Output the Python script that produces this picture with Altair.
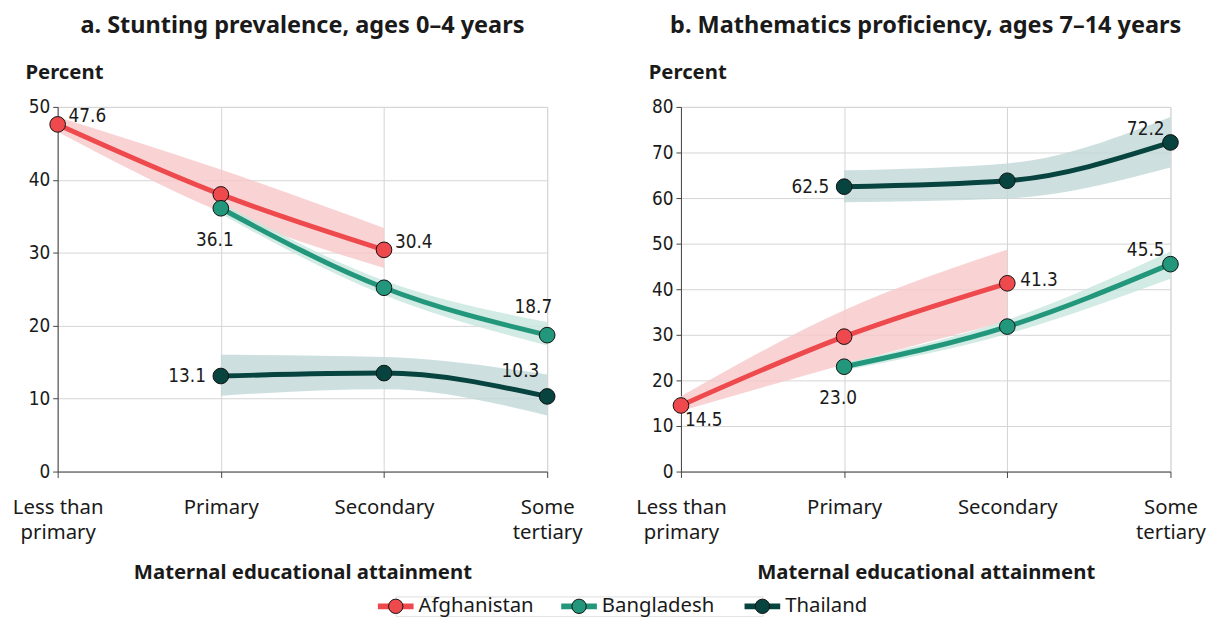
import altair as alt
import pandas as pd

categories = ["Less than primary", "Primary", "Secondary", "Some tertiary"]
countries = ["Afghanistan", "Bangladesh", "Thailand"]
colors = ["#EE4A4E", "#23977B", "#07443F"]
band_colors = ["#F8C8C8", "#C7E6DD", "#C0D8D7"]

# Panel a: stunting prevalence (percent)
stunt_afg = [47.6, 38.0, 30.4, None]
stunt_afg_lo = [46.6, 35.6, 27.9, None]
stunt_afg_hi = [48.6, 41.4, 33.4, None]
stunt_bgd = [None, 36.1, 25.2, 18.7]
stunt_bgd_lo = [None, 35.3, 24.2, 17.3]
stunt_bgd_hi = [None, 36.9, 26.2, 20.5]
stunt_tha = [None, 13.1, 13.5, 10.3]
stunt_tha_lo = [None, 10.4, 11.3, 7.7]
stunt_tha_hi = [None, 16.0, 15.7, 13.3]

# Panel b: mathematics proficiency (percent)
math_afg = [14.5, 29.6, 41.3, None]
math_afg_lo = [13.3, 23.5, 33.0, None]
math_afg_hi = [16.5, 35.4, 48.7, None]
math_bgd = [None, 23.0, 31.8, 45.5]
math_bgd_lo = [None, 22.2, 30.2, 42.3]
math_bgd_hi = [None, 23.8, 33.3, 48.3]
math_tha = [None, 62.5, 63.8, 72.2]
math_tha_lo = [None, 59.1, 59.9, 66.7]
math_tha_hi = [None, 66.1, 67.6, 77.8]

# labelled end points: (country, category, placement)
labels_a = [
    ("Afghanistan", "Less than primary", "right_up"),
    ("Afghanistan", "Secondary", "right_up"),
    ("Bangladesh", "Primary", "below"),
    ("Bangladesh", "Some tertiary", "above_left"),
    ("Thailand", "Primary", "left"),
    ("Thailand", "Some tertiary", "above_left2"),
]
labels_b = [
    ("Afghanistan", "Less than primary", "below_right"),
    ("Afghanistan", "Secondary", "right"),
    ("Bangladesh", "Primary", "below"),
    ("Bangladesh", "Some tertiary", "above_left3"),
    ("Thailand", "Primary", "left"),
    ("Thailand", "Some tertiary", "above_left3"),
]
placements = {
    "right_up": dict(dx=11, dy=-8, align="left"),
    "right": dict(dx=13, dy=-3, align="left"),
    "below": dict(dx=-6, dy=32, align="center"),
    "below_right": dict(dx=4, dy=15, align="left"),
    "above_left": dict(dx=-14, dy=-28, align="center"),
    "above_left2": dict(dx=-27, dy=-26, align="center"),
    "above_left3": dict(dx=-25, dy=-14, align="center"),
    "left": dict(dx=-15, dy=0, align="right"),
}

FONT = "Noto Sans"
NUMFONT = "Noto Sans Condensed, DejaVu Sans Condensed, Noto Sans"
TEXT = "#1a1a1a"


def make_df(series):
    rows = []
    for country, (vals, los, his) in zip(countries, series):
        for cat, v, lo, hi in zip(categories, vals, los, his):
            if v is not None:
                rows.append(dict(country=country, category=cat, value=v, lo=lo, hi=hi))
    return pd.DataFrame(rows)


label_expr = ("datum.value == 'Less than primary' ? ['Less than', 'primary'] : "
              "datum.value == 'Some tertiary' ? ['Some', 'tertiary'] : datum.value")


def panel(df, labels, title, ymax):
    xenc = alt.X(
        "category:N",
        sort=categories,
        scale=alt.Scale(type="point", domain=categories, padding=0),
        axis=alt.Axis(
            title="Maternal educational attainment",
            labelExpr=label_expr,
            labelAngle=0,
            labelFont=FONT,
            labelFontSize=20.5,
            labelLineHeight=26,
            labelPadding=20,
            labelColor=TEXT,
            titleFont=FONT,
            titleFontSize=20.5,
            titleFontWeight="bold",
            titleColor=TEXT,
            titlePadding=19,
            grid=True,
            gridColor="#d4d4d4",
            domainColor="#444",
            tickColor="#444",
            tickSize=6,
        ),
    )
    yaxis = alt.Axis(
        values=list(range(0, ymax + 1, 10)),
        title="Percent",
        titleAngle=0,
        titleAlign="left",
        titleBaseline="middle",
        titleX=-33,
        titleY=-35,
        titleFont=FONT,
        titleFontSize=20.5,
        titleFontWeight="bold",
        titleColor=TEXT,
        labelFont=NUMFONT,
        labelFontSize=19,
        labelFontWeight="normal",
        labelColor=TEXT,
        labelPadding=3,
        grid=True,
        gridColor="#d4d4d4",
        domainColor="#444",
        tickColor="#444",
        tickSize=5,
    )
    yscale = alt.Scale(domain=[0, ymax], nice=False)
    col = alt.Color("country:N", scale=alt.Scale(domain=countries, range=colors), legend=None)
    bcol = alt.Color("country:N", scale=alt.Scale(domain=countries, range=band_colors),
                     legend=None)
    fil = alt.Fill("country:N", scale=alt.Scale(domain=countries, range=colors), legend=None)

    base = alt.Chart(df)
    band = base.mark_area(interpolate="monotone", opacity=0.8).encode(
        x=xenc,
        y=alt.Y("lo:Q", scale=yscale, axis=yaxis),
        y2="hi:Q",
        color=bcol,
    )
    line = base.mark_line(interpolate="monotone", strokeWidth=5).encode(
        x=xenc, y=alt.Y("value:Q", scale=yscale, axis=yaxis), color=col
    )
    pts = base.mark_circle(size=250, opacity=1, stroke="#111", strokeWidth=1).encode(
        x=xenc, y=alt.Y("value:Q", scale=yscale, axis=yaxis), fill=fil
    )
    layers = [band, line, pts]
    for country, cat, place in labels:
        p = placements[place]
        t = base.transform_filter(
            (alt.datum.country == country) & (alt.datum.category == cat)
        ).mark_text(
            font=NUMFONT, fontSize=19, fontWeight="normal", color=TEXT,
            baseline="middle", **p
        ).encode(
            x=xenc,
            y=alt.Y("value:Q", scale=yscale, axis=yaxis),
            text=alt.Text("value:Q", format=".1f"),
        )
        layers.append(t)
    return alt.layer(*layers).resolve_scale(color="independent").properties(
        width=494,
        height=368,
        title=alt.Title(title, font=FONT, fontSize=23.7, fontWeight="bold", color=TEXT,
                        anchor="middle", frame="group", offset=25),
    )


df_a = make_df([
    (stunt_afg, stunt_afg_lo, stunt_afg_hi),
    (stunt_bgd, stunt_bgd_lo, stunt_bgd_hi),
    (stunt_tha, stunt_tha_lo, stunt_tha_hi),
])
df_b = make_df([
    (math_afg, math_afg_lo, math_afg_hi),
    (math_bgd, math_bgd_lo, math_bgd_hi),
    (math_tha, math_tha_lo, math_tha_hi),
])

chart_a = panel(df_a, labels_a, "a. Stunting prevalence, ages 0\u20134 years", 50)
chart_b = panel(df_b, labels_b, "b. Mathematics proficiency, ages 7\u201314 years", 80)

# legend
leg_df = pd.DataFrame({"country": countries})
lx = alt.X("country:N", sort=countries,
           scale=alt.Scale(type="point", domain=countries, padding=0), axis=None)
lfill = alt.Fill("country:N", scale=alt.Scale(domain=countries, range=colors), legend=None)
leg_base = alt.Chart(leg_df).encode(x=lx, y=alt.value(10))
leg_line = leg_base.mark_point(
    shape="M-1,-0.16H1V0.16H-1Z", size=1296, filled=True, opacity=1, strokeWidth=0
).encode(fill=lfill)
leg_dot = leg_base.mark_circle(size=210, opacity=1, stroke="#111", strokeWidth=1).encode(fill=lfill)
leg_text = leg_base.mark_text(align="left", baseline="middle", dx=23, font=FONT,
                              fontSize=20.5, color=TEXT).encode(text="country:N")
legend = alt.layer(leg_line, leg_dot, leg_text).properties(width=370, height=20)

chart = alt.vconcat(
    alt.hconcat(chart_a, chart_b, spacing=52),
    legend,
    spacing=12,
    center=True,
).configure_view(stroke=None).configure(
    font=FONT, padding={"left": 3, "top": 2, "right": 3, "bottom": 0}
)

chart.save("out.html", embed_options={"renderer": "svg", "actions": False})
